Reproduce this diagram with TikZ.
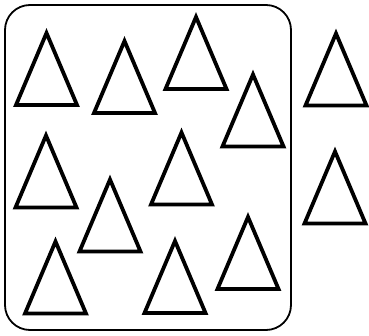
\documentclass[tikz,border=0pt]{standalone}
\usepackage{tikz}

\begin{document}
\begin{tikzpicture}[
    x=1pt, y=-1pt,
    setbox/.style={draw, line width=1.8pt, rounded corners=25pt},
    tri/.style={draw, line width=3.8pt, line join=miter}
]
    \useasboundingbox (0,0) rectangle (369,336);

    % Set boundary
    \draw[setbox] (5,5) rectangle (291,330);

    % Triangles (centre points)
    \foreach \cx/\cy in {46.5/69, 124.5/77, 196/53, 253/110.5,
                         46/171.5, 181.5/168.5, 110/215.5,
                         55.5/277.5, 175/277, 248/253,
                         336/69.5, 335/187.5}
        \draw[tri] (\cx,\cy) ++(0,-36) -- ++(30.5,72) -- ++(-61,0) -- cycle;
\end{tikzpicture}
\end{document}
